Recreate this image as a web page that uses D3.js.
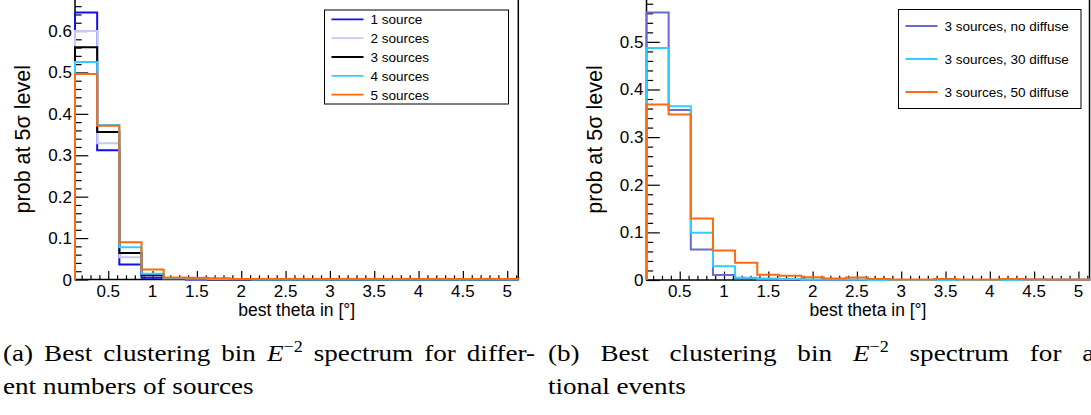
<!DOCTYPE html>
<html>
<head>
<meta charset="utf-8">
<script src="https://cdn.jsdelivr.net/npm/d3@7/dist/d3.min.js"></script>
<style>
  html, body { margin: 0; padding: 0; background: #fff; }
  svg { display: block; }
  .tick-label { font-family: "Liberation Sans", Arial, Helvetica, sans-serif; font-size: 17px; fill: #000; }
  .axis-title { font-family: "Liberation Sans", Arial, Helvetica, sans-serif; fill: #000; }
  .legend-text { font-family: "Liberation Sans", Arial, Helvetica, sans-serif; font-size: 13.5px; fill: #000; }
  .caption { font-family: "Liberation Serif", "Times New Roman", serif; font-size: 24px; fill: #000; }
</style>
</head>
<body>
<svg id="chart" width="1091" height="415"></svg>
<script>
// Bin edges of the best-theta histograms (degrees)
const thetaEdges = [0.125, 0.375, 0.625, 0.875, 1.125, 1.375, 1.625, 1.875, 2.125, 2.375,
                    2.625, 2.875, 3.125, 3.375, 3.625, 3.875, 4.125, 4.375, 4.625, 4.875, 5.125];

// Axis tick labels
const xTickValues = [0.5, 1, 1.5, 2, 2.5, 3, 3.5, 4, 4.5, 5];
const yTicksA = [0, 0.1, 0.2, 0.3, 0.4, 0.5, 0.6];
const yTicksB = [0, 0.1, 0.2, 0.3, 0.4, 0.5];

// Panel (a): different numbers of sources
const namesA = ["1 source", "2 sources", "3 sources", "4 sources", "5 sources"];
const oneSource    = [0.645, 0.312, 0.036, 0.004, 0.001, 0, 0, 0, 0, 0, 0, 0, 0, 0, 0, 0, 0, 0, 0, 0];
const twoSources   = [0.600, 0.329, 0.054, 0.010, 0.002, 0.001, 0, 0, 0, 0, 0, 0, 0, 0, 0, 0, 0, 0, 0, 0];
const threeSources = [0.561, 0.356, 0.064, 0.010, 0.002, 0.001, 0, 0, 0, 0, 0, 0, 0, 0, 0, 0, 0, 0, 0, 0];
const fourSources  = [0.525, 0.373, 0.078, 0.014, 0.003, 0.002, 0.001, 0.001, 0, 0, 0, 0, 0, 0, 0, 0, 0, 0, 0, 0];
const fiveSources  = [0.496, 0.371, 0.090, 0.024, 0.005, 0.004, 0.003, 0.001, 0.001, 0.001, 0.001, 0.001, 0.001, 0.001, 0.001, 0.001, 0.001, 0.001, 0.001, 0.001];
const colorsA = ["#1010f0", "#c8c8f8", "#000000", "#33ccff", "#ff6a10"];

// Panel (b): three sources with additional diffuse events
const namesB = ["3 sources, no diffuse", "3 sources, 30 diffuse", "3 sources, 50 diffuse"];
const noDiffuse  = [0.5615, 0.357, 0.064, 0.0105, 0.003, 0.001, 0.001, 0, 0, 0, 0, 0, 0, 0, 0, 0, 0.001, 0.001, 0, 0];
const diffuse30  = [0.487, 0.365, 0.099, 0.029, 0.0045, 0.003, 0.002, 0.001, 0.001, 0.001, 0, 0, 0, 0, 0, 0, 0, 0, 0.001, 0.001];
const diffuse50  = [0.3685, 0.3475, 0.129, 0.0617, 0.036, 0.011, 0.009, 0.006, 0.003, 0.005, 0.002, 0.001, 0.001, 0.002, 0.001, 0.001, 0.002, 0.001, 0.001, 0.001];
const colorsB = ["#6a6ad0", "#33ccff", "#ff6a10"];

const svg = d3.select("#chart");

function drawPanel(opt) {
  const g = svg.append("g");
  const x = d3.scaleLinear().domain([thetaEdges[0], thetaEdges[thetaEdges.length - 1]]).range([opt.left, opt.right]);
  const y = d3.scaleLinear().domain([0, opt.yMax]).range([opt.bottom, opt.top]);
  const frameW = opt.right - opt.left, frameH = opt.bottom - opt.top;

  // frame
  g.append("rect")
    .attr("x", opt.left).attr("y", opt.top)
    .attr("width", frameW).attr("height", frameH)
    .attr("fill", "none").attr("stroke", "#000").attr("stroke-width", 1.5);

  // x axis: ticks drawn inward, major every 0.5, minor every 0.1
  const xMajorLen = 0.03 * frameH, yMajorLen = 0.03 * frameW;
  const xMinor = d3.range(2, 52).map(v => v / 10).filter(v => v >= x.domain()[0] && v <= x.domain()[1]);
  const xa = g.append("g").attr("transform", `translate(0,${opt.bottom})`)
    .call(d3.axisBottom(x).tickValues(xMinor).tickSize(0).tickFormat(""));
  xa.select(".domain").remove();
  xa.selectAll(".tick line").remove();
  xa.selectAll(".tick").append("line")
    .attr("y1", 0)
    .attr("y2", d => (Math.abs(d * 2 - Math.round(d * 2)) < 1e-9 ? -xMajorLen : -xMajorLen / 2))
    .attr("stroke", "#000").attr("stroke-width", 1.2);
  g.selectAll(".xlab").data(xTickValues).join("text")
    .attr("class", "tick-label")
    .attr("x", d => x(d)).attr("y", opt.bottom + 17)
    .attr("text-anchor", "middle")
    .text(d => d);

  // y axis: major every 0.1, minor every 0.02
  const yMinor = d3.range(0, Math.floor(opt.yMax * 50) + 1).map(i => i / 50);
  const ya = g.append("g").attr("transform", `translate(${opt.left},0)`)
    .call(d3.axisLeft(y).tickValues(yMinor).tickSize(0).tickFormat(""));
  ya.select(".domain").remove();
  ya.selectAll(".tick line").remove();
  ya.selectAll(".tick").append("line")
    .attr("x1", 0)
    .attr("x2", d => (Math.abs(d * 10 - Math.round(d * 10)) < 1e-9 ? yMajorLen : yMajorLen / 2))
    .attr("stroke", "#000").attr("stroke-width", 1.2);
  g.selectAll(".ylab").data(opt.yTicks).join("text")
    .attr("class", "tick-label")
    .attr("x", opt.left - 3).attr("y", d => y(d) + 6)
    .attr("text-anchor", "end")
    .text(d => d === 0 ? "0" : d3.format(".1f")(d));

  // axis titles
  g.append("text").attr("class", "axis-title")
    .attr("font-size", 17.5)
    .attr("x", (opt.left + opt.right) / 2).attr("y", opt.bottom + 36)
    .attr("text-anchor", "middle")
    .text("best theta in [°]");
  g.append("text").attr("class", "axis-title")
    .attr("font-size", 21.5)
    .attr("transform", `translate(${opt.left - 45},${(opt.top + opt.bottom) / 2}) rotate(-90)`)
    .attr("text-anchor", "middle")
    .text("prob at 5σ level");

  // histograms as step outlines
  const step = vals => {
    const p = d3.path();
    p.moveTo(x(thetaEdges[0]), y(0));
    vals.forEach((v, i) => {
      p.lineTo(x(thetaEdges[i]), y(v));
      p.lineTo(x(thetaEdges[i + 1]), y(v));
    });
    p.lineTo(x(thetaEdges[vals.length]), y(0));
    return p.toString();
  };
  opt.series.forEach((s, i) => {
    g.append("path")
      .attr("d", step(s))
      .attr("fill", "none")
      .attr("stroke", opt.colors[i])
      .attr("stroke-width", 2);
  });

  // legend
  const L = opt.legend;
  g.append("rect")
    .attr("x", L.x).attr("y", L.y).attr("width", L.w).attr("height", L.h)
    .attr("fill", "#fff").attr("stroke", "#000").attr("stroke-width", 1);
  const rowH = L.h / opt.names.length;
  opt.names.forEach((name, i) => {
    const cy = L.y + rowH * (i + 0.5);
    g.append("line")
      .attr("x1", L.x + 7).attr("x2", L.x + 39)
      .attr("y1", cy).attr("y2", cy)
      .attr("stroke", opt.colors[i]).attr("stroke-width", 1.8);
    g.append("text").attr("class", "legend-text")
      .attr("x", L.x + 46).attr("y", cy + 5)
      .text(name);
  });
}

drawPanel({
  left: 75, right: 518.3, top: -1, bottom: 279.5, yMax: 0.6773, yTicks: yTicksA,
  series: [oneSource, twoSources, threeSources, fourSources, fiveSources],
  colors: colorsA, names: namesA,
  legend: { x: 324.5, y: 10, w: 184, h: 94 }
});

drawPanel({
  left: 646.5, right: 1089.5, top: -1, bottom: 280, yMax: 0.59, yTicks: yTicksB,
  series: [noDiffuse, diffuse30, diffuse50],
  colors: colorsB, names: namesB,
  legend: { x: 898.5, y: 9.5, w: 182.5, h: 99 }
});

// sub-figure captions: glyphs widened a little, justified lines stretched through word spacing
const captionStretch = 1.13;
function caption(x0, y0, lines) {
  lines.forEach((ln, i) => {
    const t = svg.append("text").attr("class", "caption")
      .attr("x", 0).attr("y", 0)
      .attr("transform", `translate(${x0},${y0 + i * 33}) scale(${captionStretch},1)`);
    ln.parts.forEach(pt => {
      const ts = t.append("tspan").text(pt.t);
      if (pt.italic) ts.attr("font-style", "italic");
      if (pt.sup) ts.attr("dy", -9).attr("font-size", "16px");
      if (pt.after) ts.attr("dy", 9);
    });
    if (ln.justify) {
      const natural = t.node().getComputedTextLength();
      const spaces = ln.parts.map(p => p.t).join("").split(" ").length - 1;
      t.attr("word-spacing", Math.max(0, (ln.justify / captionStretch - natural) / spaces));
    }
  });
}
caption(3, 361, [
  { justify: 532, parts: [{ t: "(a) Best clustering bin " }, { t: "E", italic: true }, { t: "−2", sup: true }, { t: " spectrum for differ-", after: true }] },
  { parts: [{ t: "ent numbers of sources" }] }
]);
caption(548, 361, [
  { justify: 590, parts: [{ t: "(b) Best clustering bin " }, { t: "E", italic: true }, { t: "−2", sup: true }, { t: " spectrum for addi-", after: true }] },
  { parts: [{ t: "tional events" }] }
]);
</script>
</body>
</html>
